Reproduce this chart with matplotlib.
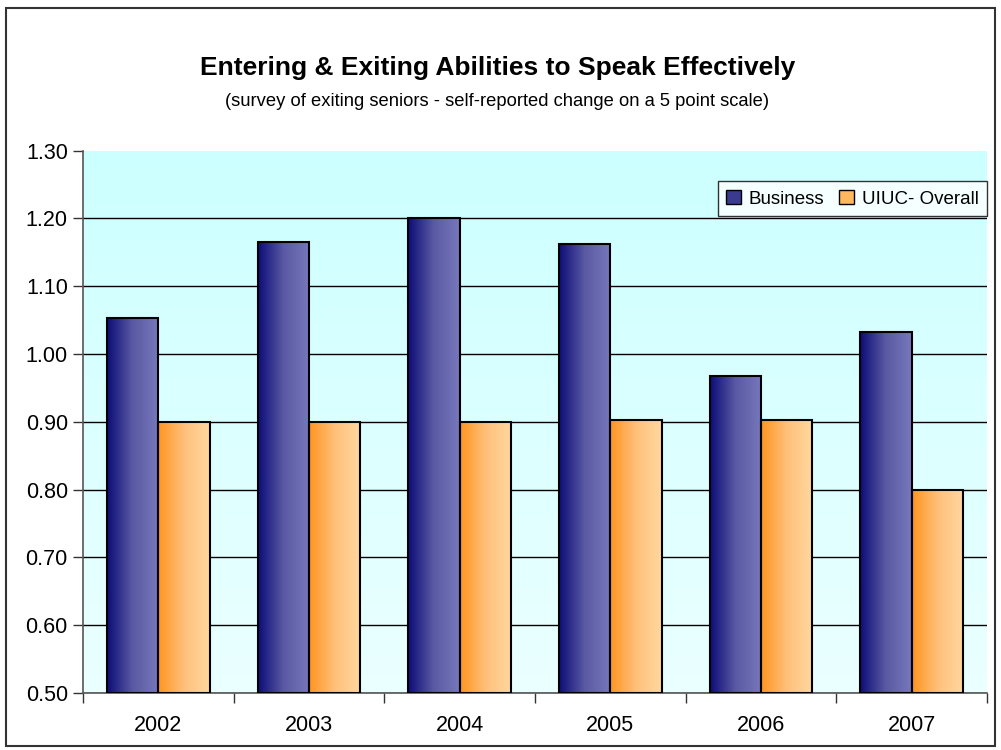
import matplotlib
matplotlib.use("Agg")
import matplotlib.pyplot as plt
import numpy as np
from matplotlib.colors import LinearSegmentedColormap
from matplotlib.patches import Rectangle

plt.rcParams["font.family"] = ["Liberation Sans", "DejaVu Sans"]

# ---------- data ----------
years = ["2002", "2003", "2004", "2005", "2006", "2007"]
business = [1.053, 1.165, 1.200, 1.162, 0.968, 1.032]
uiuc = [0.899, 0.899, 0.899, 0.902, 0.902, 0.800]

blue_cmap = LinearSegmentedColormap.from_list("blue", ["#0c0c78", "#5a5aa4", "#7878bc"])
orange_cmap = LinearSegmentedColormap.from_list("orange", ["#ff9520", "#ffc07a", "#ffd8a0"])
bg_cmap = LinearSegmentedColormap.from_list("bg", ["#ebffff", "#ccffff"])

fig = plt.figure(figsize=(10.01, 7.5), dpi=100)
ax = fig.add_axes([0.083, 0.076, 0.903, 0.7233])

x = np.arange(len(years))
w = 0.34
ymin, ymax = 0.5, 1.3

# plot area background gradient
grad_v = np.linspace(0, 1, 256).reshape(-1, 1)
ax.imshow(grad_v, cmap=bg_cmap, origin="lower", aspect="auto",
          extent=[-0.5, len(years) - 0.5, ymin, ymax], zorder=0)

ax.set_yticks(np.arange(0.5, 1.31, 0.1))
ax.yaxis.grid(True, color="black", linewidth=1.0, zorder=1)
ax.set_axisbelow(True)
ax.get_ygridlines()[-1].set_visible(False)

grad_h = np.linspace(0, 1, 256).reshape(1, -1)
b1 = ax.bar(x - w / 2, np.array(business) - ymin, w, bottom=ymin, facecolor="none",
            edgecolor="black", linewidth=1.5, zorder=4, label="Business")
b2 = ax.bar(x + w / 2, np.array(uiuc) - ymin, w, bottom=ymin, facecolor="none",
            edgecolor="black", linewidth=1.5, zorder=4, label="UIUC- Overall")
for bars, cmap in ((b1, blue_cmap), (b2, orange_cmap)):
    for p in bars:
        x0, y0 = p.get_x(), p.get_y()
        ax.imshow(grad_h, cmap=cmap, aspect="auto", zorder=3,
                  extent=[x0, x0 + p.get_width(), y0, y0 + p.get_height()])

ax.set_xlim(-0.5, len(years) - 0.5)
ax.set_ylim(ymin, ymax)
ax.set_yticklabels([f"{v:.2f}" for v in np.arange(0.5, 1.31, 0.1)], fontsize=15.5)
ax.set_xticks(x)
ax.set_xticklabels(years, fontsize=15.5)
ax.set_xticks(np.arange(-0.5, len(years)), minor=True)
ax.tick_params(axis="x", which="major", length=0, pad=16)
ax.tick_params(axis="x", which="minor", length=7, width=1, color="#333333")
ax.tick_params(axis="y", length=7, width=1, color="#333333", pad=4)

for s in ("top", "right"):
    ax.spines[s].set_visible(False)
for s in ("left", "bottom"):
    ax.spines[s].set_color("#555555")
    ax.spines[s].set_linewidth(1.2)

# legend swatches
h1 = Rectangle((0, 0), 1, 1, facecolor="#3a3a90", edgecolor="black")
h2 = Rectangle((0, 0), 1, 1, facecolor="#ffb860", edgecolor="black")
leg = ax.legend([h1, h2], ["Business", "UIUC- Overall"], loc="upper right",
                bbox_to_anchor=(1.0, 0.943), ncol=2, fontsize=13.5, frameon=True,
                fancybox=False, edgecolor="black", handlelength=0.8, handleheight=0.8,
                columnspacing=0.8, handletextpad=0.4, borderpad=0.45,
                borderaxespad=0.0)
leg.get_frame().set_linewidth(1.0)
leg.set_zorder(6)

fig.text(0.497, 0.909, "Entering & Exiting Abilities to Speak Effectively",
         ha="center", va="center", fontsize=19, fontweight="bold")
fig.text(0.497, 0.864, "(survey of exiting seniors - self-reported change on a 5 point scale)",
         ha="center", va="center", fontsize=13.2)

# outer chart border
fig.patches.append(Rectangle((0.006, 0.005), 0.988, 0.984, transform=fig.transFigure,
                             fill=False, edgecolor="#333333", linewidth=1.5))

fig.savefig("out.png", dpi=100)
